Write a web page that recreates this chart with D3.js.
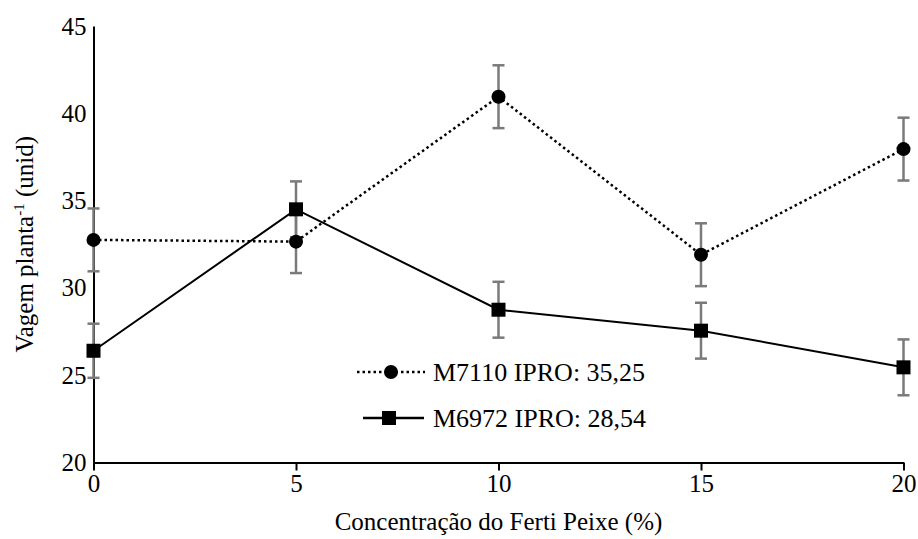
<!DOCTYPE html>
<html>
<head>
<meta charset="utf-8">
<script src="https://cdn.jsdelivr.net/npm/d3@7"></script>
<style>
  body { margin: 0; background: #fff; }
  svg text { font-family: "Liberation Serif", "DejaVu Serif", "Times New Roman", serif; fill: #000; }
</style>
</head>
<body>
<script>
const concentrations = [0, 5, 10, 15, 20]
const m7110 = [32.75, 32.65, 40.95, 31.9, 37.95]
const m7110Err = [1.8, 1.8, 1.8, 1.8, 1.8]
const m6972 = [26.4, 34.5, 28.75, 27.55, 25.45]
const m6972Err = [1.55, 1.6, 1.6, 1.6, 1.6]
const xTicks = [0, 5, 10, 15, 20]
const yTicks = [20, 25, 30, 35, 40, 45]
const seriesNames = ['M7110 IPRO: 35,25', 'M6972 IPRO: 28,54']

const fontFamily = '"Liberation Serif", "DejaVu Serif", serif'

const outerWidth = 918
const outerHeight = 539
const margin = { left: 93.5, top: 26, right: 14.5, bottom: 76.5 }
const innerWidth = outerWidth - margin.left - margin.right
const innerHeight = outerHeight - margin.top - margin.bottom

const svg = d3.select('body').append('svg')
  .attr('width', outerWidth)
  .attr('height', outerHeight)
  .style('font-family', fontFamily)

const g = svg.append('g')
  .attr('transform', 'translate(' + margin.left + ',' + margin.top + ')')

const xScale = d3.scaleLinear().domain([0, 20]).range([0, innerWidth])
const yScale = d3.scaleLinear().domain([20, 45]).range([innerHeight, 0])

// axes
const xAxis = g.append('g')
  .attr('transform', 'translate(0,' + innerHeight + ')')
  .call(d3.axisBottom(xScale).tickValues(xTicks).tickSize(8).tickPadding(4).tickSizeOuter(0))
xAxis.attr('font-family', null).attr('font-size', null)
xAxis.select('.domain').attr('stroke', '#000').attr('stroke-width', 2)
xAxis.selectAll('.tick line').attr('stroke', '#000').attr('stroke-width', 2)
xAxis.selectAll('.tick text').style('font-size', '25px')

const yAxis = g.append('g')
  .call(d3.axisLeft(yScale).tickValues(yTicks).tickSize(0).tickPadding(7).tickSizeOuter(0))
yAxis.attr('font-family', null).attr('font-size', null)
yAxis.select('.domain').attr('stroke', '#000').attr('stroke-width', 2)
yAxis.selectAll('.tick text').style('font-size', '25px')

// axis titles
svg.append('text')
  .attr('x', margin.left + innerWidth / 2)
  .attr('y', 530)
  .attr('text-anchor', 'middle')
  .style('font-size', '25px')
  .text('Concentração do Ferti Peixe (%)')

const yTitle = svg.append('text')
  .attr('transform', 'translate(33,' + (margin.top + innerHeight / 2) + ') rotate(-90)')
  .attr('text-anchor', 'middle')
  .style('font-size', '25px')
yTitle.append('tspan').text('Vagem planta')
yTitle.append('tspan').style('font-size', '15px').attr('dy', -9).text('-1')
yTitle.append('tspan').attr('dy', 9).text(' (unid)')

const series = [
  { name: seriesNames[0], values: m7110, errs: m7110Err, dash: '2.5,3', marker: 'circle' },
  { name: seriesNames[1], values: m6972, errs: m6972Err, dash: null, marker: 'square' }
]

// error bars
series.forEach(s => {
  const eb = g.append('g').attr('stroke', '#7a7a7a').attr('stroke-width', 2.5)
  concentrations.forEach((c, i) => {
    const x = xScale(c)
    const y1 = yScale(s.values[i] + s.errs[i])
    const y2 = yScale(s.values[i] - s.errs[i])
    eb.append('line').attr('x1', x).attr('x2', x).attr('y1', y1).attr('y2', y2)
    eb.append('line').attr('x1', x - 6).attr('x2', x + 6).attr('y1', y1).attr('y2', y1)
    eb.append('line').attr('x1', x - 6).attr('x2', x + 6).attr('y1', y2).attr('y2', y2)
  })
})

const line = d3.line()
  .x(d => xScale(d[0]))
  .y(d => yScale(d[1]))

function drawMarker (sel, type, x, y) {
  if (type === 'circle') {
    sel.append('circle').attr('cx', x).attr('cy', y).attr('r', 7).attr('fill', '#000')
  } else {
    sel.append('rect').attr('x', x - 7).attr('y', y - 7).attr('width', 14).attr('height', 14).attr('fill', '#000')
  }
}

series.forEach(s => {
  g.append('path')
    .datum(concentrations.map((c, i) => [c, s.values[i]]))
    .attr('d', line)
    .attr('fill', 'none')
    .attr('stroke', '#000')
    .attr('stroke-width', s.dash ? 2.5 : 2)
    .attr('stroke-dasharray', s.dash)
  const mg = g.append('g')
  concentrations.forEach((c, i) => drawMarker(mg, s.marker, xScale(c), yScale(s.values[i])))
})

// legend
const legend = svg.append('g')
const legendRows = [
  { x1: 357, x2: 425, mx: 391, y: 372 },
  { x1: 363, x2: 424, mx: 389, y: 418 }
]
series.forEach((s, i) => {
  const r = legendRows[i]
  legend.append('line')
    .attr('x1', r.x1).attr('x2', r.x2).attr('y1', r.y).attr('y2', r.y)
    .attr('stroke', '#000')
    .attr('stroke-width', 2.5)
    .attr('stroke-dasharray', s.dash)
  drawMarker(legend, s.marker, r.mx, r.y)
  legend.append('text')
    .attr('x', 433)
    .attr('y', r.y)
    .attr('dy', '0.35em')
    .style('font-size', '26px')
    .text(s.name)
})
</script>
</body>
</html>
